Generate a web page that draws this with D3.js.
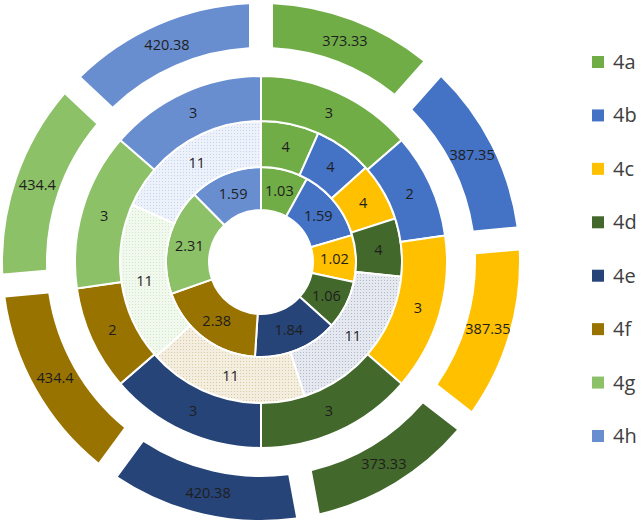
<!DOCTYPE html>
<html>
<head>
<meta charset="utf-8">
<script src="https://d3js.org/d3.v7.min.js"></script>
<style>
  body { margin: 0; background: #fff; }
  svg { display: block; }
  .lbl { font-family: "Open Sans", sans-serif; font-size: 14.5px; fill: #1e1e1e; }
  .legend text { font-family: "Open Sans", sans-serif; font-size: 20px; fill: #404040; }
</style>
</head>
<body>
<svg width="642" height="525"></svg>
<script>

// categories + colours, same order clockwise from 12 o'clock
var categories = ["4a", "4b", "4c", "4d", "4e", "4f", "4g", "4h"];
var colors = ["#70AD47", "#4472C4", "#FFC000", "#43682B", "#264478", "#997300", "#8CC168", "#698ED0"];

// rings, inner to outer
var ring1Values = [1.03, 1.59, 1.02, 1.06, 1.84, 2.38, 2.31, 1.59];
var ring2Values = [4, 4, 4, 4, 11, 11, 11, 11];
var ring2Patterned = [false, false, false, false, true, true, true, true];
var ring3Values = [3, 2, 3, 3, 3, 2, 3, 3];
var ring4Values = [373.33, 387.35, 387.35, 373.33, 420.38, 434.4, 434.4, 420.38];

var svg = d3.select("svg"),
    cx = 261,
    cy = 262;

var color = d3.scaleOrdinal().domain(categories).range(colors);

// dotted pattern fills for the "11" pieces
var defs = svg.append("defs");
categories.forEach(function(c, i) {
  var base = color(c);
  var p = defs.append("pattern")
      .attr("id", "dots-" + i)
      .attr("width", 3)
      .attr("height", 3)
      .attr("patternUnits", "userSpaceOnUse");
  p.append("rect").attr("width", 3).attr("height", 3)
      .attr("fill", d3.interpolateRgb(base, "#fff")(0.88));
  p.append("rect").attr("width", 1).attr("height", 1)
      .attr("fill", d3.interpolateRgb(base, "#fff")(0.62));
});

var pie = d3.pie().sort(null).value(function(d) { return d; });

var g = svg.append("g").attr("transform", "translate(" + cx + "," + cy + ")");

var rings = [
  { values: ring1Values, inner: 52, outer: 95 },
  { values: ring2Values, inner: 95, outer: 141, patterned: ring2Patterned },
  { values: ring3Values, inner: 141, outer: 186 },
  { values: ring4Values, inner: 215, outer: 258, pad: true }
];

rings.forEach(function(ring) {
  var arc = d3.arc().innerRadius(ring.inner).outerRadius(ring.outer);
  if (ring.pad) arc.padAngle(0.1).padRadius(240);

  var arcs = pie(ring.values);

  g.append("g").selectAll("path")
    .data(arcs)
    .enter().append("path")
      .attr("d", arc)
      .attr("fill", function(d, i) {
        if (ring.patterned && ring.patterned[i]) return "url(#dots-" + i + ")";
        return color(categories[i]);
      })
      .attr("stroke", ring.pad ? "none" : "#fff")
      .attr("stroke-width", 2);

  g.append("g").selectAll("text")
    .data(arcs)
    .enter().append("text")
      .attr("class", "lbl")
      .attr("transform", function(d) { return "translate(" + arc.centroid(d) + ")"; })
      .attr("text-anchor", "middle")
      .attr("dy", "0.35em")
      .text(function(d) { return d.data; });
});

// legend on the right
var legend = svg.append("g").attr("class", "legend");
var ly = d3.scalePoint().domain(categories).range([62, 436]);

var item = legend.selectAll("g")
    .data(categories)
    .enter().append("g")
    .attr("transform", function(d) { return "translate(592," + ly(d) + ")"; });

item.append("rect")
    .attr("y", -6)
    .attr("width", 12)
    .attr("height", 12)
    .attr("fill", function(d) { return color(d); });

item.append("text")
    .attr("x", 21)
    .attr("dy", "0.35em")
    .text(function(d) { return d; });

</script>
</body>
</html>
